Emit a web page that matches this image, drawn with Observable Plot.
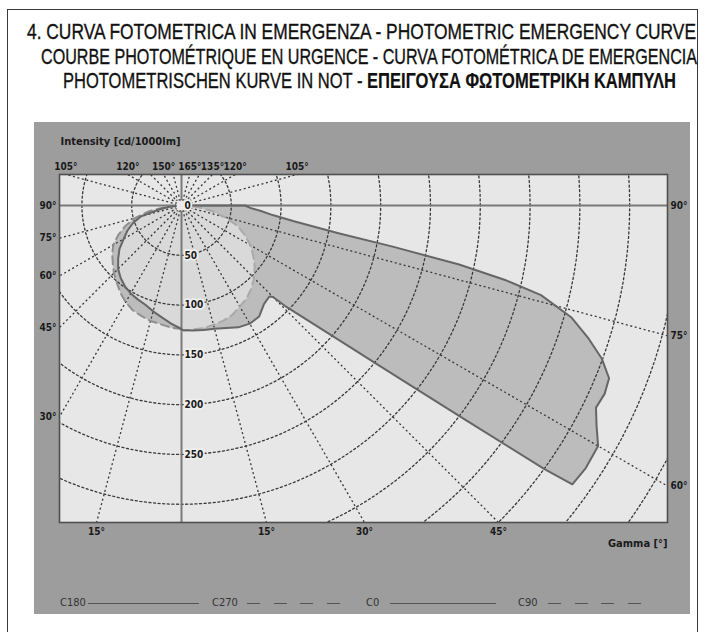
<!DOCTYPE html>
<html><head><meta charset="utf-8">
<script src="https://cdn.jsdelivr.net/npm/d3@7"></script>
<script src="https://cdn.jsdelivr.net/npm/@observablehq/plot@0.6"></script>
<style>
html,body{margin:0;padding:0;background:#fff;}
body{width:705px;height:632px;overflow:hidden;position:relative;font-family:"Liberation Sans",Arial,sans-serif;}
#border{position:absolute;left:7px;top:9px;width:691px;height:660px;border:1.5px solid #3a3a3a;box-sizing:border-box;}
.tl{position:absolute;white-space:nowrap;font-size:22px;line-height:22px;color:#111;transform-origin:0 0;-webkit-text-stroke:0.35px #111;}
.tl b{-webkit-text-stroke:0.2px #111;}
#panel{position:absolute;left:34px;top:122px;width:656px;background:#9d9d9d;}
#panel svg{display:block;}
#legend{position:relative;height:47px;}
.lt{position:absolute;top:30px;font-family:"Liberation Sans Narrow","DejaVu Sans Condensed","Liberation Sans",sans-serif;font-size:11px;line-height:12px;color:#333;}
.ls{position:absolute;top:36px;height:1.3px;background:#555;}
.ld{position:absolute;top:36px;height:1.3px;background:repeating-linear-gradient(to right,#555 0 13px,transparent 13px 26.7px);}
</style></head>
<body>
<div id="border"></div>
<div id="panel"><div id="chart"></div><div id="legend"></div></div>
<script>
// ---------- text ----------
const titleLines = [
  "4. CURVA FOTOMETRICA IN EMERGENZA - PHOTOMETRIC EMERGENCY CURVE",
  "COURBE PHOTOMÉTRIQUE EN URGENCE - CURVA FOTOMÉTRICA DE EMERGENCIA",
  "PHOTOMETRISCHEN KURVE IN NOT - "
];
const titleGreek = "ΕΠΕΙΓΟΥΣΑ ΦΩΤΟΜΕΤΡΙΚΗ ΚΑΜΠΥΛΗ";
const yAxisTitle = "Intensity [cd/1000lm]";
const xAxisTitle = "Gamma [°]";
const legendNames = ["C180", "C270", "C0", "C90"];
const legendDashed = [false, true, false, true];

// ---------- data (gamma in degrees, intensity in cd/1000lm) ----------
const c0Gamma = [0,5,10,15,20,25,30,35,40,44,45,46,48,50,51,52,53,54,54.5,57,60,62,64,66,68,70,72,74,76,77,78,79,80,82,84,86,88,90];
const c0Int   = [125,126,127,128,131,135,137,136,129,127,130,147,176,222,256,300,360,450,482,484,483,472,463,465,463,449,429,407,372,335,285,215,160,114,92,80,69,64];
const c180Gamma = [0,5,10,15,20,25,30,35,40,45,50,55,60,65,70,75,80,85,90];
const c180Int   = [124,119,114,110,106,104,102,99,95,90,83,76,67,60,52,42,22,11,0];
const c90Gamma = [0,10,15,20,25,30,35,40,45,50,55,60,65,70,75,80,85,90];
const c90Int   = [126,125,124,123,121,117,114,109,103,96,88,80,70,60,45,30,15,0];
const c270Gamma = [0,5,10,15,20,25,30,35,40,45,50,55,60,65,70,75,80,85,90];
const c270Int   = [124,123,121,120,118,116,112,107,101,96,90,85,79,70,60,48,33,16,0];

// grid & tick labels
const ringValues = [50,100,150,200,250,300,350,400,450,500,550];
const ringLabels = [0,50,100,150,200,250];
const radialAngles = [15,30,45,60,75,105,120,135,150,165];
const leftEdgeLabels = [90,75,60,45,30];
const rightEdgeLabels = [90,75,60];
const bottomLabels = [{g:15,side:-1},{g:15,side:1},{g:30,side:1},{g:45,side:1}];
const topLabels = [{g:105,side:-1},{g:120,side:-1},{g:150,side:-1},{g:165,side:1},{g:135,side:1},{g:120,side:1},{g:105,side:1}];

// ---------- title ----------
const titleSpec = [{left:27,width:669,cy:32},{left:41,width:656,cy:57},{left:63,width:613,cy:81}];
titleLines.forEach((t,i)=>{
  const d=document.createElement("div");
  d.className="tl";
  d.textContent=t;
  if(i===2){const b=document.createElement("b");b.textContent=titleGreek;d.appendChild(b);}
  document.body.appendChild(d);
  const w=d.getBoundingClientRect().width;
  d.style.left=titleSpec[i].left+"px";
  d.style.top=(titleSpec[i].cy-11)+"px";
  d.style.transform=`scaleX(${titleSpec[i].width/w})`;
});

// ---------- geometry ----------
const rad = Math.PI/180;
const k = 0.996; // px per cd
const xDom = [-122/k, 486/k];
const yDom = [-317/k, 31/k];
const side = (g, I, s) => ({x: s*I*Math.sin(g*rad), y: -I*Math.cos(g*rad)});

const c0Pts = c0Gamma.map((g,i)=>side(g,c0Int[i],1));
const c180Pts = c180Gamma.map((g,i)=>side(g,c180Int[i],-1));
const c90Pts = c90Gamma.map((g,i)=>side(g,c90Int[i],1));
const c270Pts = c270Gamma.map((g,i)=>side(g,c270Int[i],-1));

const solidPoly = [...c0Pts.slice().reverse(), ...c180Pts];
solidPoly.push(solidPoly[0]);
const dashedPoly = [...c90Pts.slice().reverse(), ...c270Pts];
dashedPoly.push(dashedPoly[0]);

const ringPts = ringValues.flatMap(r => d3.range(0,362,2).map(a => ({r, x: r*Math.cos(a*rad), y: r*Math.sin(a*rad)})));
const radials = radialAngles.flatMap(g => [-1,1].map(s => ({x2: s*1500*Math.sin(g*rad), y2: -1500*Math.cos(g*rad)})));

const xL = xDom[0], xR = xDom[1], yB = yDom[0], yT = yDom[1];
const leftLab = leftEdgeLabels.map(g => ({x: xL, y: g===90 ? 0 : xL/Math.tan(g*rad), t: g+"°"}));
const rightLab = rightEdgeLabels.map(g => ({x: xR, y: g===90 ? 0 : -xR/Math.tan(g*rad), t: g+"°"}));
const botLab = bottomLabels.map(d => ({x: d.side*(-yB)*Math.tan(d.g*rad), y: yB, t: d.g+"°"}));
const topLab = topLabels.map(d => ({x: d.side*yT/Math.tan((d.g-90)*rad), y: yT, t: d.g+"°"}));

const FONT = '"Liberation Sans Narrow","DejaVu Sans Condensed","Liberation Sans",sans-serif';
const dots = {stroke:"#383838", strokeWidth:1.3, strokeDasharray:"2,2.6"};
const lab = {fontFamily: FONT, fontWeight:"bold", fontSize: 10, fill:"#1a1a1a"};

const W = 656, H = 445;
const plot = Plot.plot({
  width: W, height: H,
  marginLeft: 25, marginRight: 23, marginTop: 52, marginBottom: H-52-348,
  x: {domain: xDom, axis: null},
  y: {domain: yDom, axis: null},
  style: {background: "#9d9d9d", fontFamily: FONT, color:"#1a1a1a"},
  marks: [
    Plot.frame({fill: "#e7e7e7", stroke: "none"}),
    Plot.line(solidPoly, {x:"x", y:"y", fill:"#bcbcbd", stroke:"none"}),
    Plot.line(dashedPoly, {x:"x", y:"y", fill:"#bcbcbc", stroke:"none"}),
    Plot.line(dashedPoly, {x:"x", y:"y", fill:"#d9d9d9", stroke:"none"}),
    Plot.line(ringPts, {x:"x", y:"y", z:"r", ...dots, clip:true}),
    Plot.link(radials, {x1: () => 0, y1: () => 0, x2:"x2", y2:"y2", ...dots, clip:true}),
    Plot.ruleY([0], {stroke:"#7a7a7a", strokeWidth:2}),
    Plot.ruleX([0], {stroke:"#7a7a7a", strokeWidth:2}),
    Plot.line(c90Pts, {x:"x", y:"y", stroke:"#a9a9a9", strokeWidth:2, strokeDasharray:"8,5"}),
    Plot.line(c270Pts, {x:"x", y:"y", stroke:"#8f8f8f", strokeWidth:2, strokeDasharray:"8,5"}),
    Plot.line(solidPoly, {x:"x", y:"y", stroke:"#666666", strokeWidth:2}),
    Plot.dot([0], {x: () => 0, y: () => 0, symbol:"square", r:6, fill:"#e9e9e9", stroke:"#444", strokeWidth:1, strokeDasharray:"1.5,1.5"}),
    Plot.text(ringLabels, {x: () => 0, y: d => -d, text: d => String(d), dx: 3, textAnchor:"start", ...lab, stroke:"#efefef", strokeWidth:3.5, paintOrder:"stroke"}),
    Plot.frame({stroke:"#4f4f4f", strokeWidth:1.6}),
    Plot.text(leftLab, {x:"x", y:"y", text:"t", dx:-3, textAnchor:"end", ...lab}),
    Plot.text(rightLab, {x:"x", y:"y", text:"t", dx:3, textAnchor:"start", ...lab}),
    Plot.text(botLab, {x:"x", y:"y", text:"t", dy:9, textAnchor:"middle", ...lab}),
    Plot.text(topLab, {x:"x", y:"y", text:"t", dy:-8, textAnchor:"middle", ...lab}),
    Plot.text([yAxisTitle], {frameAnchor:"top-left", dy:-37, dx:1, textAnchor:"start", ...lab, fontSize:11}),
    Plot.text([xAxisTitle], {frameAnchor:"bottom-right", dy:24, textAnchor:"end", ...lab, fontSize:11})
  ]
});
document.getElementById("chart").appendChild(plot);

// light fill where both curves overlap: dashed area clipped to the solid area
(function(){
  const ns = "http://www.w3.org/2000/svg";
  const solidPath = plot.querySelector('[fill="#bcbcbd"] path') || plot.querySelector('path[fill="#bcbcbd"]');
  const interPath = plot.querySelector('[fill="#d9d9d9"] path') || plot.querySelector('path[fill="#d9d9d9"]');
  if (!solidPath || !interPath) return;
  const defs = document.createElementNS(ns, "defs");
  const cp = document.createElementNS(ns, "clipPath");
  cp.setAttribute("id", "solidClip");
  const p = document.createElementNS(ns, "path");
  p.setAttribute("d", solidPath.getAttribute("d"));
  if (solidPath.getAttribute("transform")) p.setAttribute("transform", solidPath.getAttribute("transform"));
  cp.appendChild(p); defs.appendChild(cp);
  plot.insertBefore(defs, plot.firstChild);
  interPath.setAttribute("clip-path", "url(#solidClip)");
})();

// ---------- legend ----------
const legendX = [{t:26,l:[54,165]},{t:178,l:[213,306]},{t:332,l:[356,462]},{t:484,l:[514,612]}];
const lg = document.getElementById("legend");
legendNames.forEach((n,i)=>{
  const t=document.createElement("div"); t.className="lt"; t.textContent=n; t.style.left=legendX[i].t+"px"; lg.appendChild(t);
  const l=document.createElement("div"); l.className=legendDashed[i]?"ld":"ls";
  l.style.left=legendX[i].l[0]+"px"; l.style.width=(legendX[i].l[1]-legendX[i].l[0])+"px"; lg.appendChild(l);
});
</script>
</body></html>
